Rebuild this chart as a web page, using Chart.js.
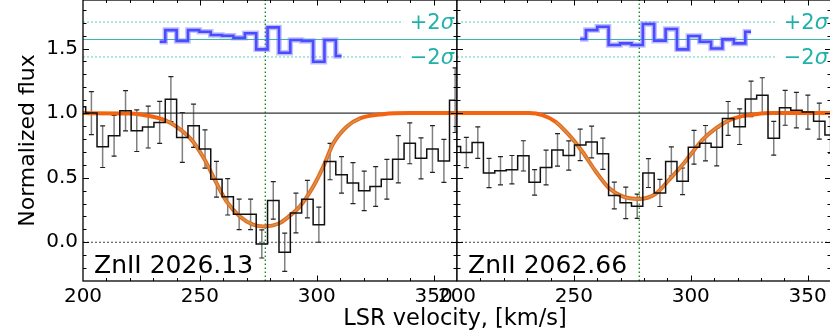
<!DOCTYPE html>
<html>
<head>
<meta charset="utf-8">
<script src="https://cdn.jsdelivr.net/npm/chart.js@4/dist/chart.umd.min.js"></script>
<style>
  body { margin:0; background:#fff; width:830px; height:332px; overflow:hidden; position:relative; font-family:"DejaVu Sans", sans-serif; }
  #wa { position:absolute; left:0; top:0; }
  #wb { position:absolute; left:417px; top:0; }
  #xt { position:absolute; left:0; top:304px; width:910px; text-align:center; font-size:22.5px; color:#000; }
</style>
</head>
<body>
<canvas id="wa" width="457" height="332"></canvas>
<canvas id="wb" width="414" height="332"></canvas>
<div id="xt">LSR velocity, [km/s]</div>
<script>
// ---------- data ----------
var xMajor = [200, 250, 300, 350];
var yMajor = [0, 0.5, 1.0, 1.5];
var vLine = 278;
var tealMid = 1.57, tealHi = 1.705, tealLo = 1.435;

// ZnII 2026.13
var znAVel  = [198.7, 203.6, 208.4, 213.3, 218.2, 223.0, 227.9, 232.8, 237.6, 242.5, 247.3, 252.2, 257.1, 261.9, 266.8, 271.7, 276.5, 281.4, 286.3, 291.1, 296.0, 300.9, 305.7, 310.6, 315.5, 320.3, 325.2, 330.0, 334.9, 339.8, 344.6, 349.5, 354.4, 359.2];
var znAFlux = [1.05, 1.00, 0.74, 0.825, 1.018, 0.864, 0.892, 0.928, 1.108, 0.812, 0.902, 0.722, 0.488, 0.352, 0.216, 0.216, -0.013, 0.324, -0.077, 0.226, 0.334, 0.136, 0.625, 0.522, 0.458, 0.398, 0.432, 0.488, 0.643, 0.766, 0.65, 0.722, 0.63, 1.10];
var znAErr  = [0.17, 0.167, 0.161, 0.158, 0.156, 0.161, 0.162, 0.163, 0.174, 0.193, 0.167, 0.148, 0.138, 0.141, 0.118, 0.118, 0.109, 0.145, 0.148, 0.154, 0.145, 0.136, 0.141, 0.141, 0.159, 0.153, 0.154, 0.154, 0.183, 0.158, 0.159, 0.181, 0.167, 0.25];
var znAModelVel  = [200, 220, 230, 235, 240, 247.1, 252.1, 257.1, 261.4, 267.1, 272.8, 277.1, 284.2, 288.5, 292.8, 298.5, 302.8, 307.1, 312.8, 318.5, 328.5, 340, 360];
var znAModelFlux = [1.0, 0.997, 0.972, 0.946, 0.895, 0.779, 0.638, 0.458, 0.316, 0.2, 0.136, 0.123, 0.149, 0.206, 0.278, 0.432, 0.586, 0.766, 0.895, 0.959, 0.992, 1.0, 1.0];
var znAResVel = [232.8, 237.6, 242.5, 247.3, 252.2, 257.1, 261.9, 266.8, 271.7, 276.5, 281.4, 286.3, 291.1, 296.0, 300.9, 305.7, 310.6];
var znARes    = [1.553, 1.643, 1.558, 1.643, 1.630, 1.605, 1.599, 1.584, 1.618, 1.494, 1.664, 1.468, 1.566, 1.558, 1.398, 1.566, 1.442];

// ZnII 2062.66
var znBVel  = [199.1, 204.0, 208.9, 213.7, 218.6, 223.5, 228.4, 233.2, 238.1, 243.0, 247.8, 252.7, 257.6, 262.4, 267.3, 272.2, 277.1, 281.9, 286.8, 291.7, 296.5, 301.4, 306.3, 311.1, 316.0, 320.9, 325.8, 330.6, 335.5, 340.4, 345.2, 350.1, 355.0, 359.8];
var znBFlux = [0.741, 0.695, 0.772, 0.536, 0.554, 0.562, 0.669, 0.464, 0.579, 0.715, 0.672, 0.754, 0.777, 0.685, 0.362, 0.305, 0.279, 0.536, 0.382, 0.626, 0.472, 0.736, 0.767, 0.736, 0.959, 0.895, 1.110, 1.138, 0.805, 1.041, 1.023, 1.008, 0.938, 0.831];
var znBErr  = [0.12, 0.117, 0.122, 0.113, 0.109, 0.110, 0.117, 0.099, 0.135, 0.126, 0.113, 0.122, 0.123, 0.121, 0.103, 0.122, 0.094, 0.112, 0.105, 0.113, 0.103, 0.131, 0.137, 0.145, 0.131, 0.138, 0.138, 0.136, 0.131, 0.135, 0.138, 0.132, 0.140, 0.14];
var znBModelVel  = [200, 230.8, 236.5, 242.2, 247.9, 253.6, 259.3, 265.0, 270.8, 277.6, 285.0, 290.8, 296.5, 299.3, 305.0, 310.7, 316.5, 322.1, 327.9, 335.0, 360];
var znBModelFlux = [1.0, 1.0, 0.985, 0.933, 0.831, 0.703, 0.55, 0.42, 0.355, 0.335, 0.375, 0.485, 0.60, 0.664, 0.792, 0.882, 0.946, 0.977, 0.992, 1.0, 1.0];
var znBResVel = [252.7, 257.6, 262.4, 267.3, 272.2, 277.1, 281.9, 286.8, 291.7, 296.5, 301.4, 306.3, 311.1, 316.0, 320.9, 325.8];
var znBRes    = [1.574, 1.643, 1.669, 1.527, 1.540, 1.527, 1.690, 1.561, 1.651, 1.494, 1.597, 1.553, 1.501, 1.571, 1.540, 1.630];

var FONT = '"DejaVu Sans", sans-serif';
var TEAL = '#20b2aa';
var YMIN = -0.3, YMAX = 1.876, XMIN = 200, XMAX = 360;

function pts(xs, ys){ return xs.map((v,i)=>({x:v, y:ys[i]})); }

function drawSigma(ctx, sign, xr, yb){
    var f1 = '21px ' + FONT, f2 = 'italic 21px ' + FONT;
    ctx.font = f2; var ws = ctx.measureText('σ').width;
    ctx.font = f1; var wn = ctx.measureText(sign + '2').width;
    ctx.fillStyle = TEAL; ctx.textAlign = 'left'; ctx.textBaseline = 'alphabetic';
    ctx.fillText(sign + '2', xr - ws - wn, yb);
    ctx.font = f2; ctx.fillText('σ', xr - ws, yb);
}

function panelPlugin(p){
    return {
        id: 'panel',
        beforeDatasetsDraw: function(chart){
            var ctx = chart.ctx, a = chart.chartArea, x = chart.scales.x, y = chart.scales.y;
            ctx.save();
            ctx.beginPath(); ctx.rect(a.left, a.top, a.width, a.height); ctx.clip();
            p.vel.forEach(function(v, i){
                var px = x.getPixelForValue(v);
                var top = y.getPixelForValue(p.flux[i] + p.err[i]);
                var bot = y.getPixelForValue(p.flux[i] - p.err[i]);
                ctx.strokeStyle = 'rgba(0,0,0,0.5)'; ctx.lineWidth = 1.5;
                ctx.beginPath(); ctx.moveTo(px, top); ctx.lineTo(px, bot); ctx.stroke();
                ctx.strokeStyle = '#222'; ctx.lineWidth = 1.2;
                ctx.beginPath();
                ctx.moveTo(px - 2.5, top); ctx.lineTo(px + 2.5, top);
                ctx.moveTo(px - 2.5, bot); ctx.lineTo(px + 2.5, bot);
                ctx.stroke();
            });
            ctx.restore();
        },
        afterDatasetsDraw: function(chart){
            var ctx = chart.ctx, a = chart.chartArea, x = chart.scales.x, y = chart.scales.y;
            ctx.save();
            // ticks pointing inward on all four sides
            ctx.strokeStyle = '#000'; ctx.lineWidth = 1;
            ctx.beginPath();
            for (var v = XMIN + 10; v < XMAX; v += 10) {
                var px = Math.round(x.getPixelForValue(v)) + 0.5;
                var L = (v % 50 === 0) ? 5.5 : 3;
                ctx.moveTo(px, a.bottom); ctx.lineTo(px, a.bottom - L);
                ctx.moveTo(px, a.top); ctx.lineTo(px, a.top + L);
            }
            for (var i = -2; i <= 18; i++) {
                var py = Math.round(y.getPixelForValue(i / 10)) + 0.5;
                var Ly = (i % 5 === 0) ? 6 : 3.5;
                ctx.moveTo(a.left, py); ctx.lineTo(a.left + Ly, py);
                ctx.moveTo(a.right, py); ctx.lineTo(a.right - Ly, py);
            }
            ctx.stroke();
            ctx.lineWidth = 1.3;
            ctx.strokeRect(a.left, a.top, a.width, a.height);
            // labels
            ctx.fillStyle = '#000'; ctx.font = '25px ' + FONT;
            ctx.textAlign = 'left'; ctx.textBaseline = 'alphabetic';
            ctx.fillText(p.label, a.left + 11, 273);
            drawSigma(ctx, '+', a.right - 3, 29);
            drawSigma(ctx, '\u2212', a.right - 3, 64);
            ctx.restore();
        }
    };
}

function makePanel(id, p, showY){
    var orange = '#f4630f', tan = '#c59a5c';
    var steep = function(c){ return c.p0.parsed.y < 0.97 && c.p1.parsed.y < 0.97; };
    return new Chart(document.getElementById(id).getContext('2d'), {
        type: 'line',
        data: {
            datasets: [
                { data: pts(p.vel, p.flux), stepped: 'middle', borderColor: '#111', borderWidth: 1.5 },
                { data: pts(p.modelVel, p.modelFlux), cubicInterpolationMode: 'monotone', borderColor: tan, borderWidth: 1.6,
                  segment: { borderColor: function(c){ return steep(c) ? tan : 'rgba(0,0,0,0)'; } } },
                { data: pts(p.modelVel, p.modelFlux), cubicInterpolationMode: 'monotone', borderColor: orange, borderWidth: 4 },
                { data: pts(p.resVel, p.res), stepped: 'middle', borderColor: '#4b4bff', borderWidth: 2.6 },
                { data: pts(p.resVel, p.res), stepped: 'middle', borderColor: 'rgba(110,110,255,0.45)', borderWidth: 5.5 },
                { data: pts([XMIN, XMAX], [1, 1]), borderColor: '#333', borderWidth: 1.2 },
                { data: pts([XMIN, XMAX], [0, 0]), borderColor: '#444', borderWidth: 1, borderDash: [2, 2] },
                { data: pts([XMIN, XMAX], [tealMid, tealMid]), borderColor: '#3bb8ac', borderWidth: 1.2 },
                { data: pts([XMIN, 337], [tealHi, tealHi]), borderColor: '#86d6d0', borderWidth: 1.3, borderDash: [2, 2] },
                { data: pts([XMIN, 337], [tealLo, tealLo]), borderColor: '#86d6d0', borderWidth: 1.3, borderDash: [2, 2] },
                { data: pts([vLine, vLine], [YMIN, YMAX]), borderColor: '#1c8a1c', borderWidth: 1.4, borderDash: [1.5, 2.5] }
            ]
        },
        options: {
            responsive: false,
            devicePixelRatio: 1,
            animation: false,
            layout: { padding: { left: showY ? 0 : 40, right: 0, top: 0, bottom: 0 } },
            datasets: { line: { clip: 0, pointRadius: 0, tension: 0 } },
            plugins: { legend: { display: false }, tooltip: { enabled: false } },
            scales: {
                x: {
                    type: 'linear', min: XMIN, max: XMAX,
                    afterBuildTicks: function(s){ s.ticks = xMajor.map(function(v){ return {value: v}; }); },
                    afterFit: function(s){ s.height = 51; s.paddingLeft = 0; s.paddingRight = 0; },
                    ticks: { color: '#000', font: { size: 20, family: FONT }, padding: 4, maxRotation: 0, autoSkip: false },
                    grid: { display: false, drawTicks: false },
                    border: { display: false }
                },
                y: {
                    display: showY,
                    min: YMIN, max: YMAX,
                    afterBuildTicks: function(s){ s.ticks = yMajor.map(function(v){ return {value: v}; }); },
                    afterFit: function(s){ s.width = showY ? 83 : 0; s.paddingTop = 0; s.paddingBottom = 0; },
                    ticks: { color: '#000', font: { size: 20, family: FONT }, padding: 5,
                             callback: function(v){ return Number(v).toFixed(1); } },
                    grid: { display: false, drawTicks: false },
                    border: { display: false },
                    title: { display: true, text: 'Normalized flux', color: '#000', font: { size: 22, family: FONT }, padding: { top: 15, bottom: 0 } }
                }
            }
        },
        plugins: [panelPlugin(p)]
    });
}

makePanel('wa', { vel: znAVel, flux: znAFlux, err: znAErr, modelVel: znAModelVel, modelFlux: znAModelFlux,
                  resVel: znAResVel, res: znARes, label: 'ZnII 2026.13' }, true);
makePanel('wb', { vel: znBVel, flux: znBFlux, err: znBErr, modelVel: znBModelVel, modelFlux: znBModelFlux,
                  resVel: znBResVel, res: znBRes, label: 'ZnII 2062.66' }, false);
</script>
</body>
</html>
